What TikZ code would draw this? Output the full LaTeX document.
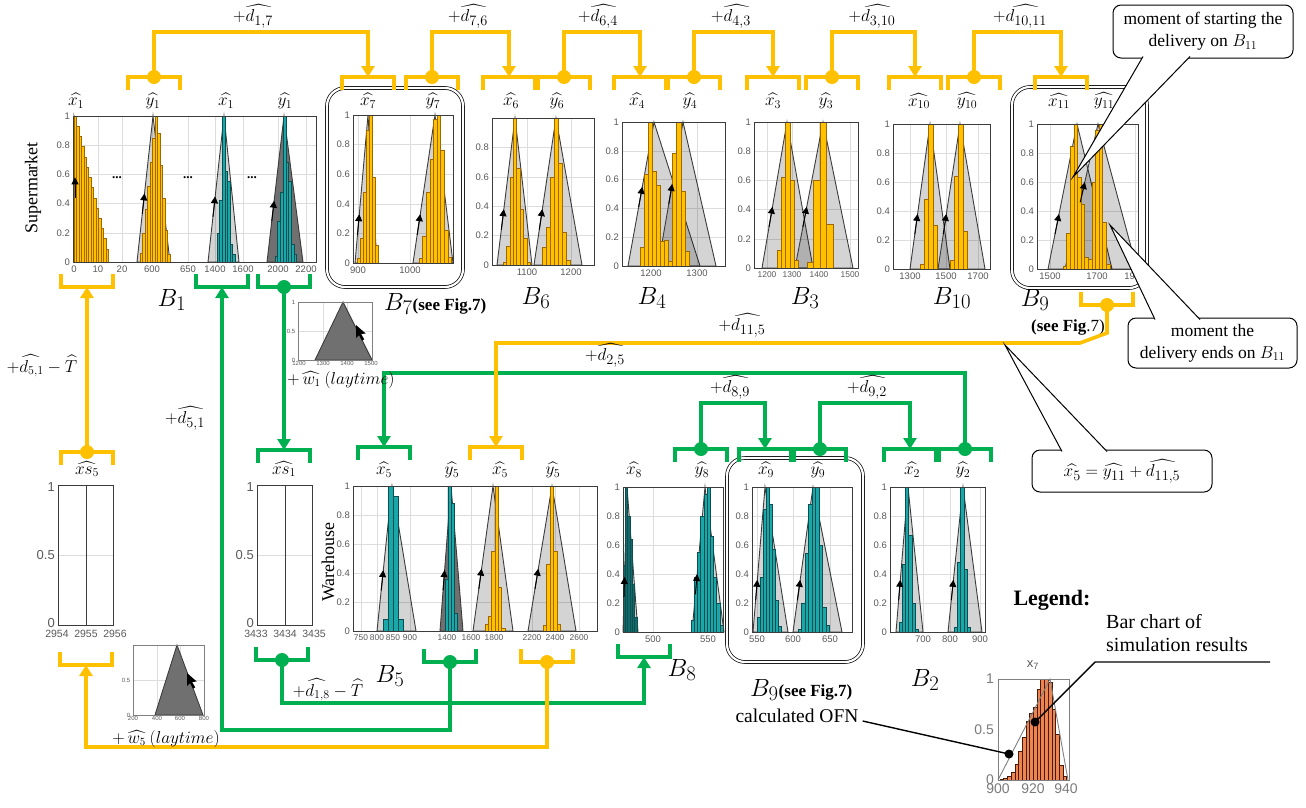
\documentclass[tikz,border=0pt]{standalone}
\usepackage{amsmath}
\usepackage{fontspec}
\setmainfont{Liberation Serif}
\setsansfont{Liberation Sans}
\usetikzlibrary{arrows.meta}

\definecolor{ocol}{HTML}{FFC000}
\definecolor{gcol}{HTML}{00B050}
\definecolor{obarE}{HTML}{A06800}
\definecolor{tcol}{HTML}{1AA7AA}
\definecolor{tbarE}{HTML}{0B4F50}
\definecolor{dtcol}{HTML}{146A6A}
\definecolor{gridc}{HTML}{DDDDDD}
\definecolor{tickc}{HTML}{5A5A5A}
\definecolor{frc}{HTML}{3C3C3C}
\definecolor{dgray}{HTML}{707070}
\definecolor{rbar}{HTML}{EE8550}
\definecolor{rbarE}{HTML}{4A1A08}

\tikzset{
  oline/.style={draw=ocol,line width=3.6pt,line join=miter},
  gline/.style={draw=gcol,line width=3.6pt,line join=miter},
  oarr/.style={oline,-{Triangle[length=11pt,width=13pt]}},
  garr/.style={gline,-{Triangle[length=11pt,width=13pt]}},
  gridl/.style={draw=gridc,line width=0.6pt},
  tickl/.style={font=\sffamily\fontsize{9.5}{9.5}\selectfont,text=tickc,inner sep=1pt},
  tickm/.style={font=\sffamily\fontsize{8.4}{8.4}\selectfont,text=tickc,inner sep=0.5pt},
  tickt/.style={font=\sffamily\fontsize{6}{6}\selectfont,text=tickc,inner sep=0.5pt},
  tickb/.style={font=\sffamily\fontsize{13}{13}\selectfont,text=tickc,inner sep=1pt},
  tickx/.style={font=\sffamily\fontsize{10.5}{10.5}\selectfont,text=tickc,inner sep=0.5pt},
  tickg/.style={font=\sffamily\fontsize{14}{14}\selectfont,text=tickc!80,inner sep=1pt},
  frm/.style={draw=frc,line width=1pt},
  tri/.style={draw=frc,line width=0.9pt,fill=black,fill opacity=0.17},
  dtri/.style={draw=frc,line width=0.9pt,fill=dgray},
  obar/.style={fill=ocol,draw=obarE,line width=0.5pt},
  tbar/.style={fill=tcol,draw=tbarE,line width=0.5pt},
  dtbar/.style={fill=dtcol,draw=tbarE,line width=0.5pt},
  rbars/.style={fill=rbar,draw=rbarE,line width=0.6pt},
  sarr/.style={draw=black,line width=1pt,-{Triangle[length=7pt,width=7pt]}},
  hatl/.style={font=\fontsize{18}{18}\selectfont,inner sep=0.5pt},
  dlab/.style={font=\fontsize{19}{19}\selectfont,inner sep=1pt},
  blab/.style={font=\fontsize{31}{31}\selectfont,inner sep=0pt},
  seef/.style={font=\bfseries\fontsize{17}{17}\selectfont,inner sep=0pt},
  dbox/.style={draw=black,line width=0.7pt,double=white,double distance=2.2pt,rounded corners=18pt},
  callbox/.style={draw=black,line width=1pt,fill=white,rounded corners=8pt,align=center,
    font=\fontsize{17.5}{22}\selectfont,inner sep=2pt},
  wedge/.style={draw=black,line width=1pt},
}

% horizontal grid lines with value labels: [style] x0, x1, ytop, ybot, values
\newcommand\ygrid[6][tickl]{%
  \foreach \vv in {#6}{%
    \pgfmathsetmacro\yy{#5-\vv*(#5-#4)}%
    \draw[gridl] (#2,\yy) -- (#3,\yy);
    \node[#1,anchor=east] at (#2-2,\yy) {\vv};}}
% vertical grid lines with axis labels: [style] ytop, ybot, label/x list
\newcommand\xgrid[4][tickl]{%
  \foreach \lab/\xx in {#4}{%
    \draw[gridl] (\xx,#2) -- (\xx,#3);
    \node[#1,anchor=north] at (\xx,#3+3) {\lab};}}
% fuzzy number triangle: style, left, peak, right, ytop, ybot
\newcommand\ofn[6]{\filldraw[#1] (#2,#6) -- (#3,#5) -- (#4,#6) -- cycle;}
% histogram: style, xstart, bar width, ytop, ybot, heights
\newcommand\bars[6]{%
  \foreach \hh [count=\ii] in {#6}{%
    \pgfmathsetmacro\bx{#2+(\ii-1)*#3}%
    \pgfmathsetmacro\by{#5-\hh*(#5-#4)}%
    \filldraw[#1] (\bx,#5) rectangle ({\bx+#3},\by);}}
% small arrow on the rising edge: left, peak, ytop, ybot, height
\newcommand\sla[5]{%
  \pgfmathsetmacro\xa{#1+(#5-0.14)*(#2-#1)}%
  \pgfmathsetmacro\ya{#4-(#5-0.14)*(#4-#3)}%
  \pgfmathsetmacro\xb{#1+#5*(#2-#1)}%
  \pgfmathsetmacro\yb{#4-#5*(#4-#3)}%
  \draw[sarr] (\xa,\ya) -- (\xb,\yb);}
% brackets opening downwards / upwards: style, centre x, y, name
\newcommand\tbr[4]{%
  \draw[#1] (#2-26,#3+13) -- (#2-26,#3) -- (#2+26,#3) -- (#2+26,#3+13);
  \coordinate (#4) at (#2,#3);}
\newcommand\bbr[4]{%
  \draw[#1] (#2-26,#3-13) -- (#2-26,#3) -- (#2+26,#3) -- (#2+26,#3-13);
  \coordinate (#4) at (#2,#3);}
% mouse pointer with its tip at the given point
\newcommand\mptr[2]{\fill[black] (#1,#2) -- ++(0,13) -- ++(3,-3) -- ++(3,5.5) -- ++(2.2,-1.1) -- ++(-3,-5.4) -- ++(4.5,-0.5) -- cycle;}

\begin{document}
\begin{tikzpicture}[x=1pt,y=-1pt]
\useasboundingbox (0,0) rectangle (1306,807);
\fill[white] (0,0) rectangle (1306,807);

% ================= supermarket row =================
% B1
\ygrid{73}{316}{116}{262}{0,0.2,0.4,0.6,0.8,1}
\xgrid{116}{262}{0/74,10/98,20/122,600/152,650/188,1400/215,1600/243,2000/278,2200/306}
\ofn{tri}{74}{74}{108}{116}{262}
\bars{obar}{74}{2.45}{116}{262}{1,0.93,0.86,0.79,0.72,0.65,0.58,0.51,0.44,0.37,0.3,0.23,0.16,0.09}
\ofn{tri}{137}{153}{170}{116}{262}
\bars{obar}{140}{2.5}{116}{262}{0.06,0.2,0.36,0.52,0.68,0.85,1,0.88,0.66,0.44,0.22,0.05}
\ofn{tri}{208}{224}{239}{116}{262}
\bars{tbar}{217}{2.6}{116}{262}{0.2,0.42,1,0.62,0.55,0.12,0.05}
\ofn{dtri}{267}{284}{303}{116}{262}
\bars{tbar}{275}{2.7}{116}{262}{0.04,0.28,0.48,1,0.68,0.55,0.12,0.05}
\draw[frm] (73,116) rectangle (316,262);
\sla{75}{75}{116}{262}{0.58}
\sla{137}{153}{116}{262}{0.47}
\sla{208}{224}{116}{262}{0.45}
\sla{267}{284}{116}{262}{0.42}
\foreach \dx [count=\k] in {117,188,252}{\node[font=\bfseries\fontsize{13}{13}\selectfont] (dots\k) at (\dx,178) {...};}
\node[rotate=90,font=\fontsize{18}{18}\selectfont] (lsup) at (33,188) {Supermarket};

% B7
\draw[dbox] (327,88) rectangle (463,287);
\ygrid{353}{453}{115}{263}{0,0.2,0.4,0.6,0.8,1}
\xgrid{115}{263}{900/358,1000/410}
\ofn{tri}{355}{368}{377}{115}{263}
\bars{obar}{357}{3}{115}{263}{0.03,0.17,0.48,0.9,1,0.58,0.12}
\ofn{tri}{413}{435}{453}{115}{263}
\bars{obar}{419}{3.6}{115}{263}{0.03,0.18,0.48,0.7,0.97,1,0.76,0.22,0.04}
\draw[frm] (353,115) rectangle (453,263);
\sla{355}{368}{115}{263}{0.33}
\sla{413}{435}{115}{263}{0.33}

% B6
\ygrid{492}{594}{118}{265}{0,0.2,0.4,0.6,0.8}
\xgrid{118}{265}{1100/527,1200/571}
\ofn{tri}{497}{515}{532}{118}{265}
\bars{obar}{503}{3.4}{118}{265}{0.02,0.13,0.6,1,0.66,0.38,0.18,0.02}
\ofn{tri}{534}{556}{582}{118}{265}
\bars{obar}{542}{4}{118}{265}{0.12,0.26,0.6,1,0.69,0.22,0.03}
\draw[frm] (492,118) rectangle (594,265);
\sla{497}{515}{118}{265}{0.38}
\sla{534}{556}{118}{265}{0.38}

% B4
\ygrid{622}{725}{122}{266}{0,0.2,0.4,0.6,0.8,1}
\xgrid{122}{266}{1200/651,1300/697}
\ofn{tri}{628}{654}{700}{122}{266}
\ofn{tri}{658}{683}{716}{122}{266}
\bars{obar}{640}{4}{122}{266}{0.13,0.64,1,0.66,0.56,0.17}
\bars{obar}{664}{4.2}{122}{266}{0.18,0.03,0.78,1,0.52,0.1}
\draw[frm] (622,122) rectangle (725,266);
\sla{628}{654}{122}{266}{0.55}
\sla{658}{683}{122}{266}{0.57}

% B3
\ygrid{754}{858}{122}{268}{0,0.2,0.4,0.6,0.8,1}
\xgrid[tickm]{122}{268}{1200/767,1300/792,1400/819,1500/850}
\ofn{tri}{762}{787}{813}{122}{268}
\ofn{tri}{795}{823}{853}{122}{268}
\bars{obar}{777}{4.3}{122}{268}{0.12,0.62,1,0.6,0.05}
\bars{obar}{807}{6.5}{122}{268}{0.04,0.6,1,0.3}
\draw[frm] (754,122) rectangle (858,268);
\sla{762}{787}{122}{268}{0.42}
\sla{795}{823}{122}{268}{0.42}

% B10
\ygrid{893}{990}{124}{269}{0,0.2,0.4,0.6,0.8,1}
\xgrid{124}{269}{1300/910,1500/946,1700/978}
\ofn{tri}{910}{930}{950}{124}{269}
\ofn{tri}{938}{960}{985}{124}{269}
\bars{obar}{920}{4.3}{124}{269}{0.03,0.48,1,0.3}
\bars{obar}{950}{4.3}{124}{269}{0.06,0.64,1,0.26}
\draw[frm] (893,124) rectangle (990,269);
\sla{910}{930}{124}{269}{0.38}
\sla{938}{960}{124}{269}{0.38}

% B9 (B11 delivery)
\draw[dbox] (1012,87) rectangle (1147,288);
\ygrid{1037}{1138}{124}{269}{0,0.2,0.4,0.6,0.8,1}
\xgrid{124}{269}{1500/1050,1700/1097,1900/1135}
\ofn{tri}{1048}{1077}{1112}{124}{269}
\ofn{tri}{1065}{1098}{1137}{124}{269}
\bars{obar}{1063}{3.6}{124}{269}{0.02,0.25,0.85,1,0.63,0.45,0.08,0.07,0.6,0.96,1,0.32,0.03}
\draw[frm] (1037,124) rectangle (1138,269);
\sla{1048}{1077}{124}{269}{0.38}
\sla{1065}{1098}{124}{269}{0.6}

% labels above the upper charts
\node[hatl] (h1) at (76,101) {$\widehat{x_1}$};
\node[hatl] (h2) at (153,101) {$\widehat{y_1}$};
\node[hatl] (h3) at (226,101) {$\widehat{x_1}$};
\node[hatl] (h4) at (285,101) {$\widehat{y_1}$};
\node[hatl] (h5) at (368,101) {$\widehat{x_7}$};
\node[hatl] (h6) at (433,101) {$\widehat{y_7}$};
\node[hatl] (h7) at (511,101) {$\widehat{x_6}$};
\node[hatl] (h8) at (557,101) {$\widehat{y_6}$};
\node[hatl] (h9) at (637,101) {$\widehat{x_4}$};
\node[hatl] (h10) at (690,101) {$\widehat{y_4}$};
\node[hatl] (h11) at (773,101) {$\widehat{x_3}$};
\node[hatl] (h12) at (826,101) {$\widehat{y_3}$};
\node[hatl] (h13) at (919,101) {$\widehat{x_{10}}$};
\node[hatl] (h14) at (967,101) {$\widehat{y_{10}}$};
\node[hatl] (h15) at (1059,101) {$\widehat{x_{11}}$};
\node[hatl] (h16) at (1104,101) {$\widehat{y_{11}}$};

% block names
\node[blab] (nB1) at (172,300) {$B_1$};
\node[blab,anchor=west] (nB7) at (384,304) {$B_7$\fontsize{17}{17}\selectfont\bfseries(see Fig.7)};
\node[blab] (nB6) at (536,298) {$B_6$};
\node[blab] (nB4) at (652,298) {$B_4$};
\node[blab] (nB3) at (805,298) {$B_3$};
\node[blab] (nB10) at (952,298) {$B_{10}$};
\node[blab] (nB9) at (1035,300) {$B_9$};
\node[seef] (nB9s) at (1068,327) {(see Fig\mdseries.7)};

% ================= warehouse row =================
% xs5
\draw[gridl] (58,555) -- (113,555);
\draw[frm] (58,485) rectangle (113,625);
\draw[frm] (86,485) -- (86,625);
\foreach \lab/\yy in {1/487,0.5/555,0/623}{\node[tickb,anchor=east] at (56,\yy) {\lab};}
\foreach \lab/\xx in {2954/57,2955/86,2956/115}{\node[tickx,anchor=north] at (\xx,629) {\lab};}
\node[hatl] (hs5) at (87,469) {$\widehat{xs_5}$};
% xs1
\draw[gridl] (257,555) -- (312,555);
\draw[frm] (257,485) rectangle (312,625);
\draw[frm] (285,485) -- (285,625);
\foreach \lab/\yy in {1/487,0.5/555,0/623}{\node[tickb,anchor=east] at (255,\yy) {\lab};}
\foreach \lab/\xx in {3433/256,3434/285,3435/314}{\node[tickx,anchor=north] at (\xx,629) {\lab};}
\node[hatl] (hs1) at (284,469) {$\widehat{xs_1}$};

% laytime w1
\draw[gridl] (298,331) -- (372,331);
\draw[gridl] (323,302) -- (323,360);
\draw[gridl] (347,302) -- (347,360);
\ofn{dtri}{315}{343}{372}{302}{360}
\draw[draw=gray,line width=0.6pt] (298,302) rectangle (372,360);
\foreach \lab/\yy in {1/302,0.5/331,0/360}{\node[tickt,anchor=east] at (296,\yy) {\lab};}
\foreach \lab/\xx in {1200/299,1300/323,1400/347,1500/371}{\node[tickt,anchor=north] at (\xx,361) {\lab};}
\mptr{356}{325}
% laytime w5
\draw[gridl] (133,680) -- (204,680);
\draw[gridl] (157,645) -- (157,715);
\draw[gridl] (180,645) -- (180,715);
\ofn{dtri}{155}{177}{203}{645}{715}
\draw[draw=gray,line width=0.6pt] (133,645) rectangle (204,715);
\foreach \lab/\yy in {0.5/680,0/715}{\node[tickt,anchor=east] at (131,\yy) {\lab};}
\foreach \lab/\xx in {200/133,400/157,600/180,800/204}{\node[tickt,anchor=north] at (\xx,716) {\lab};}
\mptr{187}{673}

% B5
\ygrid{353}{597}{486}{631}{0,0.2,0.4,0.6,0.8,1}
\xgrid[tickm]{486}{631}{750/361,800/377,850/393,900/410,1400/447,1600/471,1800/494,2200/532,2400/555,2600/579}
\ofn{tri}{377}{392}{416}{486}{631}
\bars{tbar}{383}{5}{486}{631}{0.08,1,0.93,0.08}
\ofn{dtri}{440}{451}{463}{486}{631}
\bars{tbar}{445}{3}{486}{631}{0.36,1,0.88,0.12}
\ofn{tri}{473}{493}{513}{486}{631}
\bars{obar}{485}{3.3}{486}{631}{0.05,0.1,0.55,1,0.3,0.02}
\ofn{tri}{528}{552}{576}{486}{631}
\bars{obar}{543}{3.5}{486}{631}{0.04,0.46,1,0.55,0.05}
\draw[frm] (353,486) rectangle (597,631);
\sla{377}{392}{486}{631}{0.42}
\sla{440}{451}{486}{631}{0.42}
\sla{473}{493}{486}{631}{0.43}
\sla{528}{552}{486}{631}{0.43}
\node[rotate=90,font=\fontsize{18}{18}\selectfont] (lware) at (328,562) {Warehouse};

% B8
\ygrid{623}{723}{487}{632}{0,0.2,0.4,0.6,0.8,1}
\xgrid{487}{632}{500/653,550/708}
\ofn{tri}{623}{627}{638}{487}{632}
\bars{dtbar}{623}{2.3}{487}{632}{0.46,1,0.8,0.64,0.33,0.1}
\ofn{tri}{692}{705}{724}{487}{632}
\bars{tbar}{691}{3.2}{487}{632}{0.08,0.38,0.55,0.8,0.95,1,0.66,0.38,0.2,0.05}
\draw[frm] (623,487) rectangle (723,632);
\sla{623}{627}{487}{632}{0.38}
\sla{692}{705}{487}{632}{0.4}

% B9 (lower)
\draw[dbox] (727,458) rectangle (863,662);
\ygrid{752}{852}{487}{632}{0,0.2,0.4,0.6,0.8,1}
\xgrid{487}{632}{550/757,600/793,650/830}
\ofn{tri}{753}{765}{788}{487}{632}
\bars{tbar}{757}{3}{487}{632}{0.1,0.38,0.85,1,0.88,0.57,0.22,0.04}
\ofn{tri}{793}{813}{842}{487}{632}
\bars{tbar}{798}{3.5}{487}{632}{0.02,0.2,0.54,0.88,1,1,0.6,0.17,0.05}
\draw[frm] (752,487) rectangle (852,632);
\sla{753}{765}{487}{632}{0.36}
\sla{793}{813}{487}{632}{0.36}

% B2
\ygrid{890}{985}{487}{632}{0,0.2,0.4,0.6,0.8,1}
\xgrid{487}{632}{700/923,800/950,900/980}
\ofn{tri}{896}{908}{923}{487}{632}
\bars{tbar}{899}{3.2}{487}{632}{0.07,0.47,1,0.67,0.2,0.02}
\ofn{tri}{948}{963}{982}{487}{632}
\bars{tbar}{954}{3.3}{487}{632}{0.03,0.48,1,0.43,0.03}
\draw[frm] (890,487) rectangle (985,632);
\sla{896}{908}{487}{632}{0.36}
\sla{948}{963}{487}{632}{0.36}

% labels above the lower charts
\node[hatl] (g1) at (384,470) {$\widehat{x_5}$};
\node[hatl] (g2) at (452,470) {$\widehat{y_5}$};
\node[hatl] (g3) at (500,470) {$\widehat{x_5}$};
\node[hatl] (g4) at (553,470) {$\widehat{y_5}$};
\node[hatl] (g5) at (634,470) {$\widehat{x_8}$};
\node[hatl] (g6) at (702,470) {$\widehat{y_8}$};
\node[hatl] (g7) at (766,470) {$\widehat{x_9}$};
\node[hatl] (g8) at (818,470) {$\widehat{y_9}$};
\node[hatl] (g9) at (912,470) {$\widehat{x_2}$};
\node[hatl] (g10) at (963,470) {$\widehat{y_2}$};

\node[blab] (nB5) at (390,676) {$B_5$};
\node[blab] (nB8) at (682,670) {$B_8$};
\node[blab,anchor=west] (nB9b) at (750,690) {$B_9$\fontsize{17}{17}\selectfont\bfseries(see Fig.7)};
\node[blab] (nB2) at (925,680) {$B_2$};

% ================= brackets =================
\tbr{oline}{154}{77}{dB1y}
\tbr{oline}{368}{77}{aB7x}
\tbr{oline}{432}{77}{dB7y}
\tbr{oline}{509}{77}{aB6x}
\tbr{oline}{564}{77}{dB6y}
\tbr{oline}{640}{77}{aB4x}
\tbr{oline}{694}{77}{dB4y}
\tbr{oline}{773}{77}{aB3x}
\tbr{oline}{832}{77}{dB3y}
\tbr{oline}{915}{77}{aB10x}
\tbr{oline}{974}{77}{dB10y}
\tbr{oline}{1061}{77}{aB11x}
\bbr{oline}{87}{287}{aB1a}
\bbr{gline}{222}{287}{aB1x}
\bbr{gline}{284}{287}{dB1yb}
\bbr{oline}{1107}{305}{dB11y}
\tbr{oline}{87}{452}{dXs5}
\bbr{oline}{86}{665}{aXs5}
\tbr{gline}{284}{450}{aXs1}
\bbr{gline}{282}{660}{dXs1}
\tbr{gline}{384}{447}{aB5x}
\tbr{oline}{496}{447}{aB5xo}
\bbr{gline}{450}{662}{dB5y}
\bbr{oline}{547}{662}{dB5yo}
\bbr{gline}{644}{657}{aB8}
\tbr{gline}{701}{449}{dB8y}
\tbr{gline}{765}{449}{aB9x}
\tbr{gline}{820}{449}{dB9y}
\tbr{gline}{910}{449}{aB2x}
\tbr{gline}{965}{449}{dB2y}
\coordinate (k1) at (1107,333);
\coordinate (k2) at (1080,343);

% ================= connectors =================
\draw[oarr] (dB1y) -- (dB1y |- 0,32) -| (aB7x);
\draw[oarr] (dB7y) -- (dB7y |- 0,32) -| (aB6x);
\draw[oarr] (dB6y) -- (dB6y |- 0,32) -| (aB4x);
\draw[oarr] (dB4y) -- (dB4y |- 0,32) -| (aB3x);
\draw[oarr] (dB3y) -- (dB3y |- 0,32) -| (aB10x);
\draw[oarr] (dB10y) -- (dB10y |- 0,32) -| (aB11x);
\draw[oarr] (dXs5) -- (aB1a);
\draw[garr] (dB1yb) -- (aXs1);
\draw[garr] (dB5y) -- (dB5y |- 0,730) -| (aB1x);
\draw[garr] (dXs1) -- (dXs1 |- 0,703) -| (aB8);
\draw[oarr] (dB5yo) -- (dB5yo |- 0,747) -| (aXs5);
\draw[garr] (dB2y) -- (dB2y |- 0,373) -| (aB5x);
\draw[oarr] (dB11y) -- (k1) -- (k2) -| (aB5xo);
\draw[garr] (dB8y) -- (dB8y |- 0,403) -| (aB9x);
\draw[garr] (dB9y) -- (dB9y |- 0,403) -| (aB2x);
\foreach \p in {dB1y,dB7y,dB6y,dB4y,dB3y,dB10y,dXs5,dB5yo,dB11y}{\fill[ocol] (\p) circle (7pt);}
\foreach \p in {dB1yb,dXs1,dB5y,dB8y,dB9y,dB2y}{\fill[gcol] (\p) circle (7pt);}

% connector labels
\node[dlab] (e1) at (253,16) {$+\widehat{d_{1,7}}$};
\node[dlab] (e2) at (468,16) {$+\widehat{d_{7,6}}$};
\node[dlab] (e3) at (598,16) {$+\widehat{d_{6,4}}$};
\node[dlab] (e4) at (731,16) {$+\widehat{d_{4,3}}$};
\node[dlab] (e5) at (872,16) {$+\widehat{d_{3,10}}$};
\node[dlab] (e6) at (1020,16) {$+\widehat{d_{10,11}}$};
\node[dlab,font=\fontsize{18}{18}\selectfont] (e7) at (42,366) {$+\widehat{d_{5,1}}-\widehat{T}$};
\node[dlab] (e8) at (185,418) {$+\widehat{d_{5,1}}$};
\node[dlab,anchor=west,font=\fontsize{16}{16}\selectfont] (e9) at (286,380) {$+\,\widehat{w_1}\ (laytime)$};
\node[dlab,font=\fontsize{18}{18}\selectfont] (e10) at (328,690) {$+\widehat{d_{1,8}}-\widehat{T}$};
\node[dlab,font=\fontsize{16}{16}\selectfont] (e11) at (166,739) {$+\,\widehat{w_5}\ (laytime)$};
\node[dlab] (e12) at (605,355) {$+\widehat{d_{2,5}}$};
\node[dlab] (e13) at (742,325) {$+\widehat{d_{11,5}}$};
\node[dlab] (e14) at (730,387) {$+\widehat{d_{8,9}}$};
\node[dlab] (e15) at (867,387) {$+\widehat{d_{9,2}}$};

% ================= callouts =================
\node[callbox,minimum width=180pt,minimum height=53pt] (cA) at (1203,31.5) {moment of starting the\\delivery on $B_{11}$};
\coordinate (cAa) at (1143,56.5); \coordinate (cAb) at (1190,56.5); \coordinate (cAt) at (1073,177);
\fill[white] (cAa) -- (cAt) -- (cAb) -- cycle;
\draw[wedge] (cAa) -- (cAt) -- (cAb);

\node[callbox,minimum width=169pt,minimum height=50pt] (cB) at (1212.5,343) {moment the\\delivery ends on $B_{11}$};
\coordinate (cBa) at (1155,319.5); \coordinate (cBb) at (1200,319.5); \coordinate (cBt) at (1110,225);
\fill[white] (cBa) -- (cBt) -- (cBb) -- cycle;
\draw[wedge] (cBa) -- (cBt) -- (cBb);

\node[callbox,minimum width=180pt,minimum height=42pt,font=\fontsize{19}{19}\selectfont] (cC) at (1122,471) {$\widehat{x_5}=\widehat{y_{11}}+\widehat{d_{11,5}}$};
\coordinate (cCa) at (1062,451.5); \coordinate (cCb) at (1107,451.5); \coordinate (cCt) at (1005,345);
\fill[white] (cCa) -- (cCt) -- (cCb) -- cycle;
\draw[wedge] (cCa) -- (cCt) -- (cCb);

% ================= legend =================
\node[font=\bfseries\fontsize{22}{22}\selectfont] (leg) at (1052,600) {Legend:};
\bars{rbars}{1000}{3.7}{679}{780}{0.01,0.02,0.04,0.08,0.16,0.28,0.42,0.58,0.66,0.72,0.9,1,1,0.97,0.7,0.45,0.15,0.04}
\draw[draw=gray,line width=0.9pt] (998,780) -- (1050,679) -- (1068,780);
\draw[draw=gray,line width=0.9pt] (998,679) rectangle (1069,780);
\foreach \lab/\yy in {1/679,0.5/730,0/780}{\node[tickg,anchor=east] at (995,\yy) {\lab};}
\foreach \lab/\xx in {900/998,920/1033,940/1066}{\node[tickg,anchor=north] at (\xx,783) {\lab};}
\node[font=\sffamily\fontsize{13}{13}\selectfont,text=tickc] (lx7) at (1033,665) {x\textsubscript{7}};
\node[anchor=north west,align=left,font=\fontsize{20}{23}\selectfont,inner sep=0pt] (lbar) at (1106,614) {Bar chart of\\simulation results};
\coordinate (lb1) at (1270,662); \coordinate (lb2) at (1095,662); \coordinate (lbd) at (1035,722);
\draw[line width=1.4pt] (lb1) -- (lb2) -- (lbd);
\fill (lbd) circle (4.5pt);
\node[font=\fontsize{19.5}{19.5}\selectfont,inner sep=1pt] (lofn) at (797,716) {calculated OFN};
\coordinate (lod) at (1009,754);
\draw[line width=1.4pt] (lofn.east) ++(3,5) -- (lod);
\fill (lod) circle (4.5pt);
\end{tikzpicture}
\end{document}
